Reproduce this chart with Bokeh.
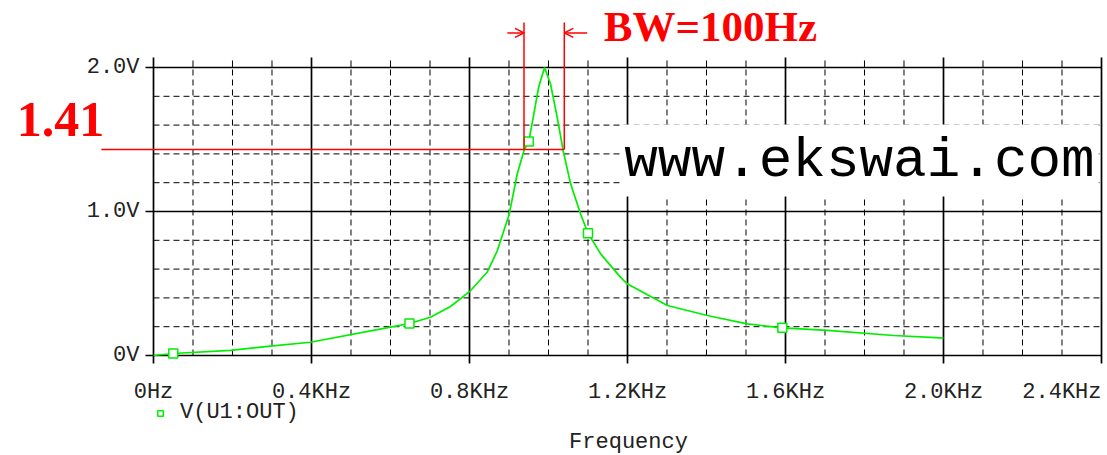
from bokeh.plotting import figure
from bokeh.models import (Label, Arrow, OpenHead, Legend, LegendItem, Range1d)
from bokeh.core.properties import value
from bokeh.embed import file_html
from bokeh.resources import INLINE

# ---- data ----
freq_khz = [0.0, 0.05, 0.195, 0.296, 0.397, 0.60, 0.648, 0.701, 0.752, 0.803,
            0.845, 0.870, 0.900, 0.921, 0.938, 0.950, 0.963, 0.975, 0.990,
            1.005, 1.022, 1.037, 1.056, 1.081, 1.100, 1.132, 1.182, 1.199,
            1.301, 1.402, 1.503, 1.592, 1.706, 1.874, 1.992, 2.0]
v_out = [0.0, 0.014, 0.035, 0.065, 0.092, 0.197, 0.222, 0.266, 0.34, 0.451,
         0.580, 0.725, 0.975, 1.262, 1.424, 1.486, 1.678, 1.863, 2.0,
         1.887, 1.655, 1.424, 1.192, 0.984, 0.849, 0.706, 0.544, 0.498,
         0.347, 0.278, 0.220, 0.192, 0.174, 0.139, 0.123, 0.12]

marker_freq = [0.05, 0.648, 0.950, 1.100, 1.592]
marker_v = [0.014, 0.222, 1.486, 0.849, 0.192]

x_ticks = [0, 0.4, 0.8, 1.2, 1.6, 2.0, 2.4]
x_tick_labels = ["0Hz", "0.4KHz", "0.8KHz", "1.2KHz", "1.6KHz", "2.0KHz", "2.4KHz"]
x_minor = [0.1, 0.2, 0.3, 0.5, 0.6, 0.7, 0.9, 1.0, 1.1, 1.3, 1.4, 1.5,
           1.7, 1.8, 1.9, 2.1, 2.2, 2.3]
y_ticks = [0, 1, 2]
y_tick_labels = ["0V", "1.0V", "2.0V"]
y_minor = [0.2, 0.4, 0.6, 0.8, 1.2, 1.4, 1.6, 1.8]

x_lo, x_hi = 0.0, 2.4
y_lo, y_hi = 0.0, 2.0
bw_low = 0.938
bw_high = 1.04
half_power_level = 1.43
series_name = "V(U1:OUT)"

MONO = "Liberation Mono"
TXT = "#222222"
GREEN = "#00ee00"
RED = "#ff0000"

W, H = 1107, 455
# the data window spans the whole canvas; the plot box sits inside it
p = figure(width=W, height=H, title=None,
           x_range=Range1d(-0.38734, 2.41519), y_range=Range1d(-0.69444, 2.46528),
           x_axis_location=None, y_axis_location=None,
           output_backend="svg", toolbar_location=None, min_border=0,
           background_fill_color="white", border_fill_color="white",
           outline_line_color=None)
p.grid.visible = False

# tick extents (data units)
tick_x_out = 0.0203   # 8px left of the y axis
tick_y_top = 0.069    # major ticks above the top edge
tick_y_minor = 0.049  # minor ticks above the top edge
tick_y_bot = 0.056    # major ticks below the bottom edge

# dashed minor grid
p.segment(x0=x_minor, y0=[y_lo] * len(x_minor), x1=x_minor, y1=[y_hi] * len(x_minor),
          line_color="black", line_width=1, line_dash="6 4")
p.segment(x0=[x_lo] * len(y_minor), y0=y_minor, x1=[x_hi] * len(y_minor), y1=y_minor,
          line_color="black", line_width=1, line_dash="6 4")
# solid major grid / frame / ticks
p.segment(x0=x_ticks, y0=[y_lo - tick_y_bot] * len(x_ticks), x1=x_ticks,
          y1=[y_hi + tick_y_top] * len(x_ticks), line_color="black", line_width=1.7)
p.segment(x0=[x_lo - tick_x_out] * len(y_ticks), y0=y_ticks, x1=[x_hi] * len(y_ticks),
          y1=y_ticks, line_color="black", line_width=1.7)
# minor ticks above the top edge
p.segment(x0=x_minor, y0=[y_hi] * len(x_minor), x1=x_minor, y1=[y_hi + tick_y_minor] * len(x_minor),
          line_color="black", line_width=1)

# tick labels
p.text(x=x_ticks[:-1], y=[-0.257] * (len(x_ticks) - 1), text=x_tick_labels[:-1],
       text_align="center", text_baseline="alphabetic", text_font=value(MONO),
       text_font_size=value("22px"), text_color=TXT)
p.text(x=x_ticks[-1:], y=[-0.257], text=x_tick_labels[-1:],
       text_align="right", text_baseline="alphabetic", text_font=value(MONO),
       text_font_size=value("22px"), text_color=TXT)
p.text(x=[-0.0354] * len(y_ticks), y=y_ticks, text=y_tick_labels,
       text_align="right", text_baseline="middle", text_font=value(MONO),
       text_font_size=value("22px"), text_color=TXT)

# data
p.line(freq_khz, v_out, line_color=GREEN, line_width=1.7)
sc = p.scatter(marker_freq, marker_v, marker="square", size=9, fill_color="white",
               line_color=GREEN, line_width=1.5)

legend = Legend(items=[LegendItem(label=series_name, renderers=[sc])],
                location=(153, 30), orientation="horizontal",
                border_line_color=None, background_fill_alpha=0,
                padding=0, margin=0, spacing=0, glyph_width=14, glyph_height=24,
                label_height=24, label_standoff=13, label_text_font=MONO,
                label_text_font_size="22px", label_text_color=TXT)
p.add_layout(legend, "center")

p.add_layout(Label(x=1.2025, y=-0.604, text="Frequency", text_align="center",
                   text_baseline="alphabetic", text_font=MONO, text_font_size="22px",
                   text_color=TXT))

# red bandwidth annotations
top_y = 2.3125
arrow_y = 2.24
p.add_layout(Arrow(end=None, x_start=-0.132, y_start=half_power_level,
                   x_end=bw_high, y_end=half_power_level, line_color=RED, line_width=1.5))
for xb in (bw_low, bw_high):
    p.add_layout(Arrow(end=None, x_start=xb, y_start=half_power_level,
                       x_end=xb, y_end=top_y, line_color=RED, line_width=1.5))
p.add_layout(Arrow(end=OpenHead(size=9, line_color=RED, line_width=1.5),
                   x_start=bw_low - 0.042, y_start=arrow_y, x_end=bw_low, y_end=arrow_y,
                   line_color=RED, line_width=1.5))
p.add_layout(Arrow(end=OpenHead(size=9, line_color=RED, line_width=1.5),
                   x_start=bw_high + 0.058, y_start=arrow_y, x_end=bw_high, y_end=arrow_y,
                   line_color=RED, line_width=1.5))

p.add_layout(Label(x=1.41, y=2.2847, text="BW=100Hz", text_align="center",
                   text_baseline="middle", text_font="Liberation Serif",
                   text_font_style="bold", text_font_size="43px", text_color=RED))
p.add_layout(Label(x=-0.2354, y=1.642, text="1.41", text_align="center",
                   text_baseline="middle", text_font="Liberation Serif",
                   text_font_style="bold", text_font_size="50px", text_color=RED))
p.add_layout(Label(x=1.7873, y=1.354, text="www.ekswai.com", text_align="center",
                   text_baseline="middle", text_font=MONO, text_font_size="56px",
                   text_color="black", background_fill_color="white", padding=4))

open("out.html", "w").write(file_html(p, INLINE))
